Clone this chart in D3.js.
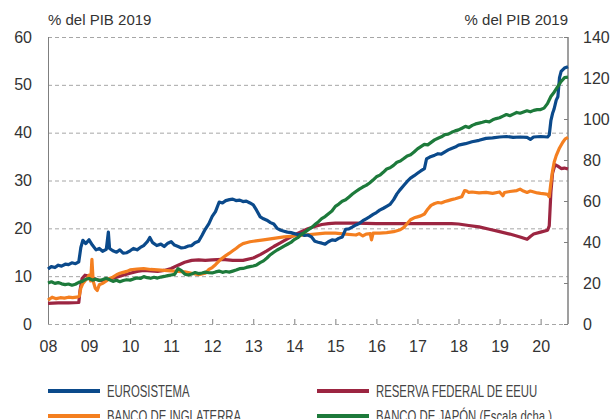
<!DOCTYPE html>
<html>
<head>
<meta charset="utf-8">
<script src="https://cdn.jsdelivr.net/npm/d3@7"></script>
<style>
  body { margin: 0; background: #fff; }
  svg { display: block; font-family: 'Liberation Sans', Arial, sans-serif; }
</style>
</head>
<body>
<script>
// Eurosistema, % del PIB 2019 (left axis) — [year, value]
const eurosistema = [
  [2008.0, 11.5], [2008.08, 12.0], [2008.17, 11.8], [2008.25, 12.3], [2008.33, 12.1], [2008.42, 12.5],
  [2008.5, 12.4], [2008.58, 12.8], [2008.67, 12.6], [2008.75, 13.0], [2008.8, 16.0], [2008.85, 17.5],
  [2008.92, 16.8], [2009.0, 17.6], [2009.08, 16.5], [2009.17, 15.5], [2009.25, 15.8], [2009.33, 15.2],
  [2009.42, 15.6], [2009.47, 19.2], [2009.5, 15.8], [2009.58, 15.3], [2009.67, 15.0], [2009.75, 15.5],
  [2009.83, 14.8], [2009.92, 14.9], [2010.0, 15.3], [2010.08, 15.8], [2010.17, 15.5], [2010.25, 16.0],
  [2010.33, 16.4], [2010.42, 17.2], [2010.48, 18.1], [2010.55, 17.0], [2010.65, 16.4], [2010.75, 16.7],
  [2010.83, 16.2], [2010.92, 16.9], [2011.0, 17.2], [2011.08, 16.5], [2011.17, 16.2], [2011.25, 15.9],
  [2011.33, 16.0], [2011.42, 16.3], [2011.5, 16.4], [2011.58, 17.0], [2011.67, 17.3], [2011.75, 18.5],
  [2011.83, 19.8], [2011.92, 21.0], [2012.0, 22.5], [2012.08, 23.5], [2012.17, 25.5], [2012.25, 25.3],
  [2012.33, 25.8], [2012.42, 26.0], [2012.5, 26.1], [2012.58, 25.8], [2012.67, 25.9], [2012.75, 25.6],
  [2012.83, 25.7], [2012.92, 25.3], [2013.0, 24.9], [2013.08, 23.8], [2013.17, 22.4], [2013.25, 22.0],
  [2013.33, 21.7], [2013.42, 21.2], [2013.5, 20.9], [2013.58, 20.0], [2013.67, 19.6], [2013.75, 19.4],
  [2013.83, 19.2], [2013.92, 19.1], [2014.0, 18.9], [2014.08, 18.7], [2014.17, 18.8], [2014.25, 18.5],
  [2014.33, 18.6], [2014.42, 18.2], [2014.5, 17.3], [2014.58, 17.1], [2014.67, 16.9], [2014.75, 16.7],
  [2014.83, 17.2], [2014.92, 17.6], [2015.0, 17.5], [2015.08, 17.9], [2015.17, 18.2], [2015.25, 19.8],
  [2015.33, 19.9], [2015.42, 20.3], [2015.5, 20.7], [2015.58, 21.0], [2015.67, 21.6], [2015.75, 22.0],
  [2015.83, 22.4], [2015.92, 22.9], [2016.0, 23.3], [2016.08, 23.8], [2016.17, 24.2], [2016.25, 24.6],
  [2016.33, 25.0], [2016.42, 26.0], [2016.5, 27.2], [2016.58, 28.1], [2016.67, 29.0], [2016.75, 29.8],
  [2016.83, 30.5], [2016.92, 31.0], [2017.0, 31.5], [2017.08, 32.0], [2017.17, 32.5], [2017.22, 34.5],
  [2017.3, 34.9], [2017.42, 35.3], [2017.5, 35.6], [2017.58, 35.5], [2017.67, 36.0], [2017.75, 36.4],
  [2017.83, 36.7], [2017.92, 37.0], [2018.0, 37.4], [2018.17, 37.7], [2018.33, 38.1], [2018.5, 38.4],
  [2018.67, 38.8], [2018.83, 38.9], [2019.0, 39.1], [2019.17, 39.2], [2019.33, 39.0], [2019.5, 39.1],
  [2019.67, 39.0], [2019.75, 38.6], [2019.83, 39.1], [2020.0, 39.2], [2020.17, 39.1], [2020.21, 39.5],
  [2020.25, 42.5], [2020.29, 44.0], [2020.33, 45.0], [2020.38, 46.8], [2020.42, 47.5], [2020.46, 51.5],
  [2020.5, 52.8], [2020.58, 53.5], [2020.667, 53.8]
]

// Banco de Inglaterra (left axis)
const bancoInglaterra = [
  [2008.0, 5.0], [2008.1, 5.6], [2008.2, 5.3], [2008.3, 5.5], [2008.4, 5.4], [2008.5, 5.6],
  [2008.6, 5.5], [2008.7, 5.6], [2008.76, 5.8], [2008.8, 7.5], [2008.85, 8.5], [2008.9, 9.0],
  [2008.95, 9.5], [2009.0, 10.2], [2009.04, 9.0], [2009.07, 13.5], [2009.1, 9.0], [2009.15, 7.5],
  [2009.2, 7.0], [2009.25, 8.2], [2009.33, 8.5], [2009.42, 9.0], [2009.5, 9.5], [2009.58, 9.8],
  [2009.67, 10.3], [2009.75, 10.6], [2009.83, 10.8], [2009.92, 11.0], [2010.0, 11.3], [2010.17, 11.5],
  [2010.33, 11.6], [2010.5, 11.4], [2010.67, 11.3], [2010.83, 11.2], [2011.0, 11.1], [2011.17, 11.0],
  [2011.33, 10.9], [2011.5, 10.6], [2011.67, 10.3], [2011.83, 10.6], [2011.92, 11.4], [2012.0, 11.8],
  [2012.08, 12.4], [2012.17, 13.2], [2012.25, 13.8], [2012.33, 14.3], [2012.42, 14.8], [2012.5, 15.3],
  [2012.58, 15.8], [2012.67, 16.4], [2012.75, 16.8], [2012.83, 17.0], [2012.92, 17.2], [2013.0, 17.3],
  [2013.25, 17.6], [2013.5, 17.9], [2013.75, 18.2], [2014.0, 18.4], [2014.25, 18.6], [2014.5, 18.8],
  [2014.75, 19.0], [2015.0, 19.0], [2015.25, 18.8], [2015.5, 18.6], [2015.58, 18.9], [2015.67, 18.4],
  [2015.75, 18.8], [2015.85, 18.9], [2015.88, 17.6], [2015.92, 19.0], [2016.08, 19.0], [2016.25, 19.1],
  [2016.42, 19.3], [2016.58, 19.7], [2016.67, 20.2], [2016.75, 21.0], [2016.83, 21.8], [2016.92, 22.2],
  [2017.0, 22.4], [2017.08, 22.6], [2017.17, 23.0], [2017.25, 24.0], [2017.33, 24.8], [2017.42, 25.2],
  [2017.5, 25.4], [2017.58, 25.3], [2017.67, 25.6], [2017.75, 25.8], [2017.83, 26.0], [2017.92, 26.2],
  [2018.0, 26.4], [2018.08, 26.6], [2018.15, 27.9], [2018.2, 27.8], [2018.25, 27.5], [2018.33, 27.6],
  [2018.5, 27.4], [2018.67, 27.5], [2018.83, 27.3], [2019.0, 27.6], [2019.08, 26.8], [2019.12, 27.5],
  [2019.25, 27.7], [2019.42, 27.9], [2019.5, 28.2], [2019.58, 27.8], [2019.67, 27.5], [2019.75, 27.8],
  [2019.92, 27.4], [2020.0, 27.3], [2020.1, 27.2], [2020.17, 27.1], [2020.21, 26.6], [2020.25, 29.5],
  [2020.29, 32.0], [2020.33, 33.8], [2020.38, 35.2], [2020.46, 36.8], [2020.54, 38.0], [2020.6, 38.7],
  [2020.667, 39.0]
]

// Reserva Federal de EEUU (left axis)
const reservaFederal = [
  [2008.0, 4.3], [2008.25, 4.4], [2008.5, 4.4], [2008.75, 4.5], [2008.78, 7.0], [2008.83, 9.5],
  [2008.9, 10.2], [2009.0, 10.0], [2009.17, 9.3], [2009.33, 9.0], [2009.5, 9.4], [2009.67, 9.8],
  [2009.83, 10.2], [2010.0, 10.6], [2010.17, 11.0], [2010.33, 11.2], [2010.5, 11.1], [2010.67, 11.0],
  [2010.83, 11.2], [2011.0, 11.6], [2011.17, 12.3], [2011.33, 12.9], [2011.5, 13.3], [2011.67, 13.4],
  [2011.83, 13.3], [2012.0, 13.4], [2012.25, 13.5], [2012.5, 13.3], [2012.75, 13.3], [2013.0, 13.8],
  [2013.17, 14.5], [2013.33, 15.3], [2013.5, 16.2], [2013.67, 17.0], [2013.83, 17.8], [2014.0, 18.6],
  [2014.17, 19.3], [2014.33, 19.9], [2014.5, 20.4], [2014.67, 20.8], [2014.83, 21.0], [2015.0, 21.1],
  [2015.5, 21.1], [2016.0, 21.0], [2016.5, 21.0], [2017.0, 21.0], [2017.5, 21.0], [2017.83, 21.0],
  [2018.0, 20.9], [2018.25, 20.6], [2018.5, 20.3], [2018.75, 19.8], [2019.0, 19.3], [2019.25, 18.8],
  [2019.5, 18.2], [2019.67, 17.7], [2019.75, 18.3], [2019.83, 18.8], [2020.0, 19.2], [2020.17, 19.6],
  [2020.21, 20.5], [2020.25, 27.5], [2020.29, 31.5], [2020.35, 33.3], [2020.42, 33.0], [2020.5, 32.5],
  [2020.58, 32.6], [2020.667, 32.4]
]

// Banco de Japón (right axis), monthly from Jan 2008
const meses = d3.range(0, 153).map(i => 2008 + i / 12)
const bancoJapon = [
  20.0, 20.6, 19.8, 20.2, 19.6, 19.2, 19.5, 18.9, 19.4, 20.3, 20.8, 21.8,
  22.2, 21.4, 21.9, 21.2, 21.7, 22.3, 21.6, 20.8, 21.3, 20.6, 21.2, 21.6,
  21.4, 22.0, 22.5, 22.2, 23.1, 22.6, 22.3, 22.8, 22.4, 22.9, 23.2, 23.6,
  23.9, 24.2, 27.0, 26.0, 24.3, 23.9, 24.4, 25.1, 24.6, 24.9, 25.3, 25.0,
  24.9, 25.4, 25.8, 25.2, 25.6, 25.3, 25.8, 26.3, 27.0, 27.1, 27.6, 28.0,
  28.3, 28.8, 29.9, 30.8, 32.2, 33.8, 35.0, 36.1, 37.0, 38.0, 38.9, 39.8,
  41.2, 42.1, 43.6, 44.7, 45.9, 47.0, 48.5, 49.8, 51.4, 52.4, 53.8, 55.1,
  57.4, 58.5, 59.9, 60.6, 62.0, 63.4, 64.6, 65.8, 66.8, 67.6, 68.8, 70.2,
  71.8, 72.6, 74.0, 75.6, 76.2, 77.4, 78.9, 79.5, 80.7, 82.0, 82.6, 83.9,
  85.4, 86.5, 87.6, 87.4, 88.6, 89.8, 90.6, 91.3, 92.4, 92.6, 93.5, 94.2,
  94.7, 95.5, 96.4, 95.8, 96.9, 97.6, 98.0, 98.4, 98.9, 98.6, 99.6, 100.2,
  100.6, 101.4, 102.2, 101.6, 102.4, 103.2, 102.8, 103.4, 104.0, 103.5, 104.2, 104.6,
  104.6, 105.3, 107.5, 111.0, 113.2, 115.8, 118.3, 120.2, 120.5
]

const years = d3.range(2008, 2021)
const leftTicks = [0, 10, 20, 30, 40, 50, 60]
const rightTicks = [0, 20, 40, 60, 80, 100, 120, 140]

const width = 614
const height = 419
const margin = { top: 37, right: 46, bottom: 95, left: 48 }
const innerW = width - margin.left - margin.right
const innerH = height - margin.top - margin.bottom

const colours = {
  euro: '#0b4a8b',
  boe: '#f47f20',
  fed: '#9c2541',
  boj: '#1d7a3b',
  grid: '#a6a6a6',
  axis: '#7f7f7f',
  text: '#333'
}

const x = d3.scaleLinear().domain([2008, 2020.667]).range([0, innerW])
const yL = d3.scaleLinear().domain([0, 60]).range([innerH, 0])
const yR = d3.scaleLinear().domain([0, 140]).range([innerH, 0])

const svg = d3.select('body').append('svg')
  .attr('width', width)
  .attr('height', height)

const g = svg.append('g')
  .attr('transform', `translate(${margin.left},${margin.top})`)

// Dashed gridlines on the left scale
g.append('g')
  .selectAll('line')
  .data(leftTicks)
  .join('line')
  .attr('x1', 0)
  .attr('x2', innerW)
  .attr('y1', d => yL(d) + 0.5)
  .attr('y2', d => yL(d) + 0.5)
  .attr('stroke', colours.grid)
  .attr('stroke-dasharray', '4,3')

// Left axis: line + labels
const leftAxis = g.append('g')
  .call(d3.axisLeft(yL).tickValues(leftTicks).tickSize(0).tickPadding(16))
leftAxis.select('.domain').attr('stroke', colours.axis).attr('d', `M0.5,0V${innerH}`)
leftAxis.selectAll('text')
  .attr('font-size', 16)
  .attr('fill', colours.text)
  .attr('font-family', 'Liberation Sans, Arial, sans-serif')

// Right axis
const rightAxis = g.append('g')
  .attr('transform', `translate(${innerW},0)`)
  .call(d3.axisRight(yR).tickValues(rightTicks).tickSize(0).tickPadding(15))
rightAxis.select('.domain').attr('stroke', colours.axis).attr('stroke-width', 1.5).attr('d', `M0,0V${innerH}`)
rightAxis.selectAll('text')
  .attr('font-size', 16)
  .attr('fill', colours.text)
  .attr('font-family', 'Liberation Sans, Arial, sans-serif')
rightAxis.selectAll('.tick')
  .append('line')
  .attr('x1', -4)
  .attr('x2', 0)
  .attr('stroke', colours.axis)

// Bottom axis: small inward ticks and year labels
const bottomAxis = g.append('g')
  .attr('transform', `translate(0,${innerH})`)
  .call(d3.axisBottom(x).tickValues(years).tickSize(0).tickPadding(17).tickFormat(d => String(d).slice(2)))
bottomAxis.select('.domain').remove()
bottomAxis.selectAll('text')
  .attr('font-size', 16)
  .attr('fill', colours.text)
  .attr('font-family', 'Liberation Sans, Arial, sans-serif')
bottomAxis.selectAll('.tick')
  .filter(d => d > 2008)
  .append('line')
  .attr('y1', 0)
  .attr('y2', -5)
  .attr('stroke', colours.axis)

// Units
svg.append('text')
  .attr('x', margin.left)
  .attr('y', 25)
  .attr('font-size', 15)
  .attr('fill', colours.text)
  .text('% del PIB 2019')
svg.append('text')
  .attr('x', margin.left + innerW)
  .attr('y', 25)
  .attr('text-anchor', 'end')
  .attr('font-size', 15)
  .attr('fill', colours.text)
  .text('% del PIB 2019')

// Series
const lineL = d3.line().x(d => x(d[0])).y(d => yL(d[1]))
const lineR = d3.line().x((d, i) => x(meses[i])).y(d => yR(d))

const series = [
  { data: reservaFederal, line: lineL, colour: colours.fed },
  { data: bancoInglaterra, line: lineL, colour: colours.boe },
  { data: eurosistema, line: lineL, colour: colours.euro },
  { data: bancoJapon, line: lineR, colour: colours.boj }
]

g.append('g')
  .attr('class', 'lines')
  .selectAll('path')
  .data(series)
  .join('path')
  .attr('d', d => d.line(d.data))
  .attr('fill', 'none')
  .attr('stroke', d => d.colour)
  .attr('stroke-width', 3.2)
  .attr('stroke-linejoin', 'round')

// Legend
const legendItems = [
  { label: 'EUROSISTEMA', colour: colours.euro, col: 0, row: 0 },
  { label: 'RESERVA FEDERAL DE EEUU', colour: colours.fed, col: 1, row: 0 },
  { label: 'BANCO DE INGLATERRA', colour: colours.boe, col: 0, row: 1 },
  { label: 'BANCO DE JAPÓN (Escala dcha.)', colour: colours.boj, col: 1, row: 1 }
]

const legend = svg.append('g')
  .selectAll('g')
  .data(legendItems)
  .join('g')
  .attr('transform', d => `translate(${d.col === 0 ? 48 : 317},${391 + d.row * 25})`)

legend.append('line')
  .attr('x1', 0)
  .attr('x2', 52)
  .attr('stroke', d => d.colour)
  .attr('stroke-width', 4)

// condensed lettering, as in the original
legend.append('text')
  .attr('transform', 'translate(59,6) scale(0.71,1)')
  .attr('font-size', 16)
  .attr('fill', '#444')
  .text(d => d.label)
</script>
</body>
</html>
